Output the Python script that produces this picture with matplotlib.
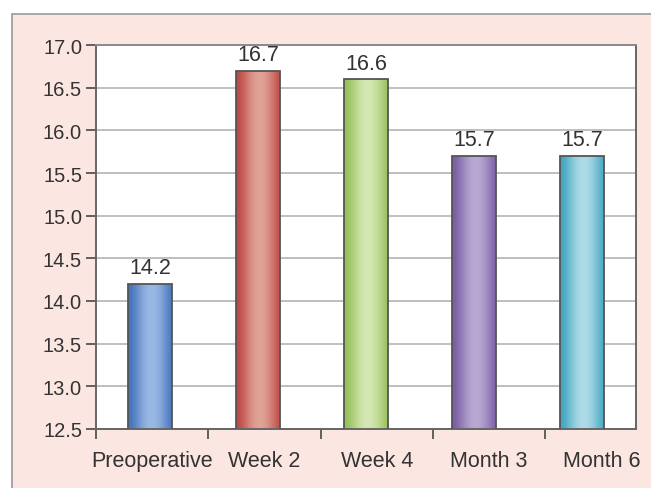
import numpy as np
import matplotlib.pyplot as plt
from matplotlib.colors import to_rgb
from matplotlib.patches import Rectangle

plt.rcParams['font.family'] = ['Liberation Sans', 'DejaVu Sans']

categories = ["Preoperative", "Week 2", "Week 4", "Month 3", "Month 6"]
values = [14.2, 16.7, 16.6, 15.7, 15.7]
edge_colors = ["#4674bd", "#bf4a45", "#97c05a", "#7b5fa6", "#43a8c2"]
light_colors = ["#9ab8e4", "#e0a397", "#d4e8b3", "#b7a9d2", "#aedbe7"]
yticks = [12.5, 13.0, 13.5, 14.0, 14.5, 15.0, 15.5, 16.0, 16.5, 17.0]

txt = "#333333"
fig = plt.figure(figsize=(6.51, 4.89), dpi=100)
fig.patch.set_facecolor("white")

# pink panel behind the chart
panel = Rectangle((12 / 651, -0.05), 1.0, 1 - 15 / 489 + 0.05, transform=fig.transFigure,
                  facecolor="#fce6e1", edgecolor="#9a9a9a", linewidth=1.2, zorder=-5)
fig.patches.append(panel)

ax = fig.add_axes([96 / 651, 59 / 489, 540 / 651, 384 / 489])
ax.set_facecolor("white")

x = np.arange(len(categories))
bars = ax.bar(x, values, width=0.4, bottom=0, facecolor="none",
              edgecolor="#555555", linewidth=1.3, zorder=3)

# cylinder-like horizontal shading inside each bar
t = np.linspace(0, 1, 200)
prof = np.sin(np.pi * t) ** 1.4
prof = np.roll(prof, 8)
prof[:8] = prof[8]
for b, ec, lc in zip(bars, edge_colors, light_colors):
    c0 = np.array(to_rgb(ec))
    c1 = np.array(to_rgb(lc))
    img = c0[None, None, :] + (c1 - c0)[None, None, :] * prof[None, :, None]
    x0, w, h = b.get_x(), b.get_width(), b.get_height()
    im = ax.imshow(img, extent=[x0, x0 + w, 12.5, h], aspect="auto", zorder=2,
                   interpolation="bilinear")
    im.set_clip_path(b)
    ax.annotate(f"{b.get_height():.1f}", (x0 + w / 2, h), xytext=(0, 4),
                textcoords="offset points", ha="center", va="bottom",
                fontsize=15.5, color=txt)

ax.set_xlim(-0.5, 4.5)
ax.set_ylim(12.5, 17.0)
ax.set_yticks(yticks)
ax.set_yticklabels([f"{v:.1f}" for v in yticks])
ax.yaxis.grid(True, color="#b4b4b4", linewidth=1.2, zorder=1)
ax.set_axisbelow(True)

# category labels sit between boundary ticks on a slightly wider spacing
step = 1.04
ax.set_xticks([(i + 0.5) * step - 0.5 for i in range(len(categories))])
ax.set_xticklabels(categories)
ax.set_xticks([i * step - 0.5 for i in range(len(categories))], minor=True)
ax.tick_params(axis="x", which="major", length=0, pad=15, labelsize=15.5, labelcolor=txt)
ax.tick_params(axis="x", which="minor", length=7, width=1.3, color="#555555", direction="out")
ax.tick_params(axis="y", length=7, width=1.3, color="#555555", pad=3, labelsize=14.5,
               labelcolor=txt)

for side in ["left", "bottom", "right", "top"]:
    ax.spines[side].set_color("#666666")
    ax.spines[side].set_linewidth(1.4)
ax.spines["top"].set_color("#8a8a8a")

fig.savefig("out.png", dpi=100)
